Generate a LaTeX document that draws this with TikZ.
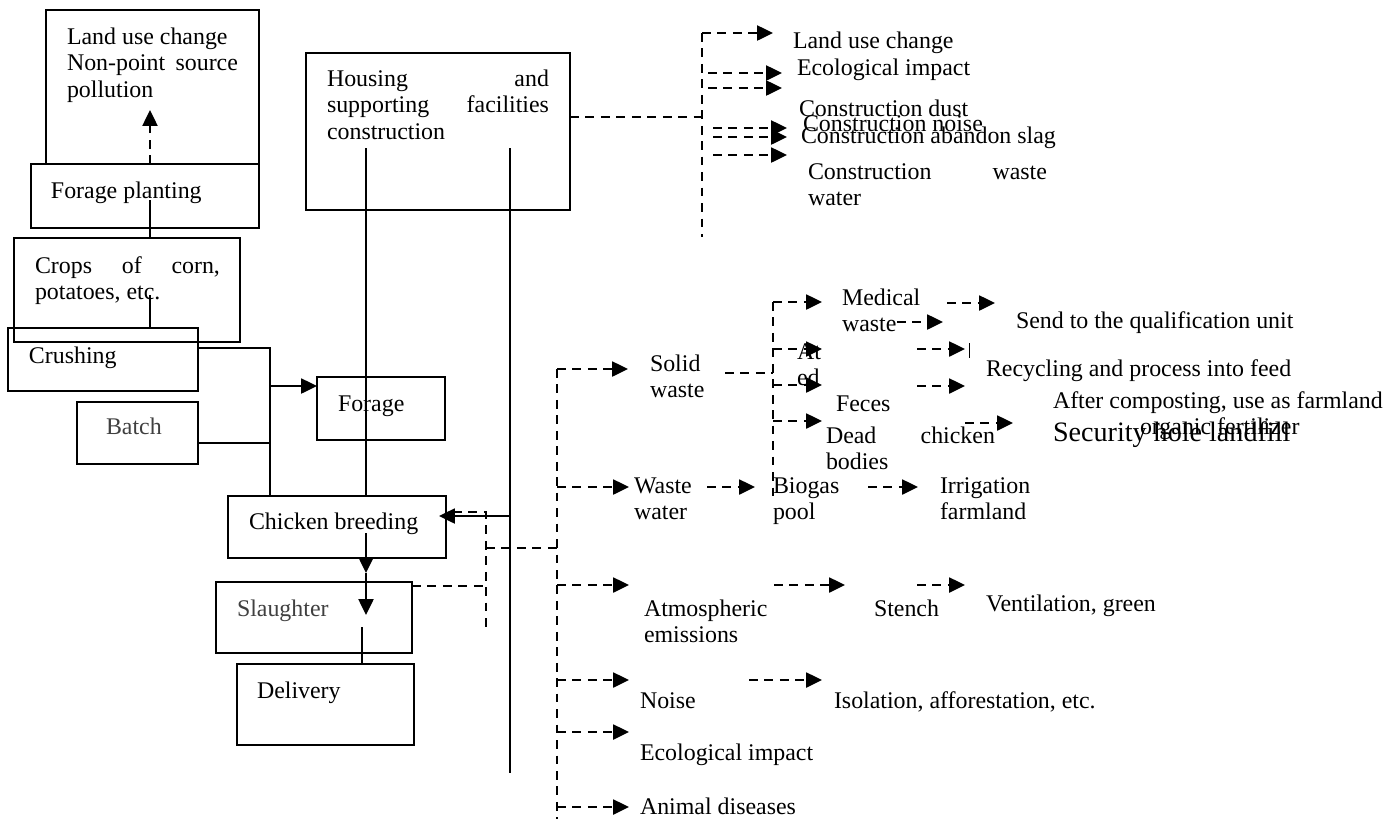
\documentclass[tikz,border=0pt]{standalone}
\usepackage{fontspec}
\setmainfont{Liberation Serif}
\usetikzlibrary{arrows.meta}
\definecolor{gtxt}{gray}{0.25}
\newcommand\mybox[5]{\node[box,minimum width={(#4-#2)*0.02cm},minimum height={(#5-#3)*0.02cm}] (#1) at (#2,#3) {};}
\begin{document}
\begin{tikzpicture}[x=0.02cm,y=-0.02cm,
  box/.style={draw,line width=1.15pt,anchor=north west,inner sep=0pt,outer sep=0pt},
  txt/.style={anchor=base west,inner sep=0pt,outer sep=0pt,font=\fontsize{13.6}{15.3}\selectfont},
  big/.style={anchor=base west,inner sep=0pt,outer sep=0pt,font=\fontsize{16}{18}\selectfont},
  sl/.style={line width=1.2pt},
  dl/.style={line width=1.2pt,dash pattern=on 5pt off 3.8pt},
  tip/.style={-{Triangle[length=9pt,width=8.5pt]}},
]
\useasboundingbox (0,0) rectangle (1399,819);

% ---------- boxes ----------
\mybox{lu}{46}{10}{259}{164}
\mybox{fp}{31}{164}{259}{228}
\mybox{crops}{14}{238}{240}{342}
\mybox{crush}{8}{328}{198}{391}
\mybox{batch}{77}{402}{198}{464}
\mybox{forage}{317}{377}{445}{440}
\mybox{house}{306}{53}{570}{210}
\mybox{cb}{228}{496}{446}{558}
\mybox{sla}{216}{582}{412}{653}
\mybox{del}{237}{664}{414}{745}

% ---------- texts in boxes ----------
\node[txt] (tlu) at (67,44) {\vtop{\hbox{Land use change}\hbox to 3.42cm{Non-point\hfill source}\hbox{pollution}}};
\node[txt] (tfp) at (51,198) {Forage planting};
\node[txt] (tcrops) at (35,273) {\vtop{\hbox to 3.7cm{Crops\hfill of\hfill corn,}\hbox{potatoes, etc.}}};
\node[txt] (tcrush) at (29,363) {Crushing};
\node[txt,text=gtxt] (tbatch) at (106,434) {Batch};
\node[txt] (tforage) at (338,411) {Forage};
\node[txt] (thouse) at (327,86) {\vtop{\hbox to 4.44cm{Housing\hfill and}\hbox to 4.44cm{supporting\hfill facilities}\hbox{construction}}};
\node[txt] (tcb) at (249,529) {Chicken breeding};
\node[txt,text=gtxt] (tsla) at (237,616) {Slaughter};
\node[txt] (tdel) at (257,698) {Delivery};

% ---------- left solid connectors ----------
\coordinate (p1) at (150,200);
\coordinate (p2) at (150,295);
\draw[sl] (p1) -- (crops.north -| p1);
\draw[sl] (p2) -- (crush.north -| p2);
\draw[dl,tip] (fp.north -| p1) -- (150,110);
\coordinate (j1) at (270,348);
\draw[sl] (crush.east |- j1) -- (j1) -- (cb.north -| j1);
\draw[sl] (batch.east |- 0,443) -- (270,443);
\coordinate (j2) at (270,386);
\draw[sl,tip] (j2) -- (forage.west |- j2);
\coordinate (h1) at (366,148);
\coordinate (h2) at (510,148);
\coordinate (h2b) at (510,773);
\draw[sl] (h1) -- (cb.north -| h1);
\draw[sl] (h2) -- (h2b);
\draw[sl,tip] (510,516) -- (439,516);
\coordinate (c1) at (366,533);
\coordinate (c2) at (366,573);
\coordinate (c3) at (366,615);
\draw[sl,tip] (c1) -- (c2);
\draw[sl,tip] (c2) -- (c3);
\coordinate (d1) at (362,627);
\draw[sl] (d1) -- (del.north -| d1);

% ---------- dashed return lines ----------
\draw[dl] (453,512) -- (486,512) -- (486,630);
\draw[dl] (486,548) -- (557,548);
\draw[dl] (sla.east |- 0,586) -- (486,586);

% ---------- construction branch ----------
\coordinate (v0) at (702,33);
\coordinate (v1) at (702,237);
\draw[dl] (house.east |- 0,117) -- (702,117);
\draw[dl] (v0) -- (v1);
\draw[dl,tip] (v0) -- (773,33);
\draw[dl,tip] (708,73) -- (782,73);
\draw[dl,tip] (708,88) -- (782,88);
\draw[dl,tip] (713,128) -- (787,128);
\draw[dl,tip] (713,137) -- (787,137);
\draw[dl,tip] (713,155) -- (787,155);
\node[txt] (k1) at (793,48) {Land use change};
\node[txt] (k2) at (797,75) {Ecological impact};
\node[txt] (k3) at (799,116) {Construction dust};
\node[txt] (k4) at (803,131) {Construction noise};
\node[txt] (k5) at (801,143) {Construction abandon slag};
\node[txt] (k6) at (808,179) {\vtop{\hbox to 4.78cm{Construction\hfill waste}\hbox{water}}};

% ---------- main dashed trunk ----------
\coordinate (m0) at (557,369);
\coordinate (m1) at (557,819);
\draw[dl] (m0) -- (m1);
\draw[dl,tip] (m0) -- (628,369);
\node[txt] (sw) at (650,371) {\vtop{\hbox{Solid}\hbox{waste}}};
\draw[dl] (725,373) -- (773,373);
\draw[dl] (773,302) -- (773,497);
\draw[dl,tip] (773,302) -- (822,302);
\draw[dl,tip] (773,349) -- (822,349);
\draw[dl,tip] (773,385) -- (822,385);
\draw[dl,tip] (773,421) -- (822,421);
\node[txt] (mw) at (842,305) {\vtop{\hbox{Medical}\hbox{waste}}};
\node[txt] (at) at (797,359) {\vtop{\hbox{At}\hbox{ed}}};
\node[txt] (fe) at (836,411) {Feces};
\node[txt] (dc) at (826,443) {\vtop{\hbox to 3.38cm{Dead\hfill chicken}\hbox{bodies}}};
\draw[dl,tip] (897,322) -- (943,322);
\draw[dl,tip] (947,303) -- (995,303);
\draw[dl,tip] (917,349) -- (965,349);
\draw[line width=0.5pt] (969,343) -- (969,358);
\draw[dl,tip] (917,386) -- (965,386);
\draw[dl,tip] (965,423) -- (1013,423);
\node[txt] (r1) at (1016,328) {Send to the qualification unit};
\node[txt] (r2) at (986,376) {Recycling and process into feed};
\node[txt] (r3) at (1053,408) {After composting, use as farmland};
\node[txt] (r4) at (1140,434) {organic fertilizer};
\node[big] (r5) at (1053,441) {Security hole landfill};

% waste water
\draw[dl,tip] (557,487) -- (629,487);
\node[txt] (ww) at (634,493) {\vtop{\hbox{Waste}\hbox{water}}};
\draw[dl,tip] (707,487) -- (755,487);
\node[txt] (bp) at (773,493) {\vtop{\hbox{Biogas}\hbox{pool}}};
\draw[dl,tip] (868,487) -- (918,487);
\node[txt] (ir) at (940,493) {\vtop{\hbox{Irrigation}\hbox{farmland}}};

% atmospheric
\draw[dl,tip] (557,585) -- (629,585);
\node[txt] (ae) at (644,616) {\vtop{\hbox{Atmospheric}\hbox{emissions}}};
\draw[dl,tip] (774,585) -- (845,585);
\node[txt] (st) at (874,616) {Stench};
\draw[dl,tip] (917,585) -- (965,585);
\node[txt] (vg) at (986,611) {Ventilation, green};

% noise
\draw[dl,tip] (557,680) -- (629,680);
\node[txt] (no) at (640,708) {Noise};
\draw[dl,tip] (749,680) -- (822,680);
\node[txt] (is) at (834,708) {Isolation, afforestation, etc.};

% ecological / animal
\draw[dl,tip] (557,732) -- (629,732);
\node[txt] (ei) at (640,760) {Ecological impact};
\draw[dl,tip] (557,807) -- (629,807);
\node[txt] (ad) at (640,814) {Animal diseases};
\end{tikzpicture}
\end{document}
